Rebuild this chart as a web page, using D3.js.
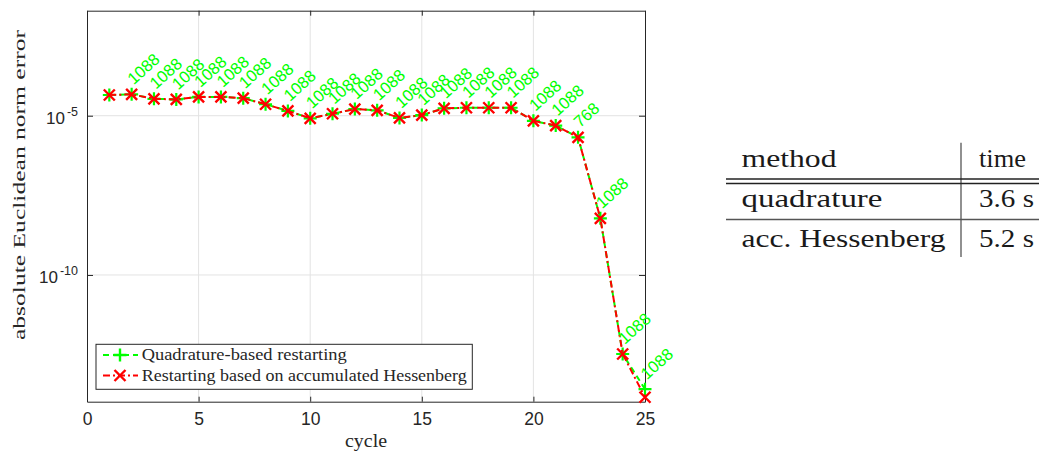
<!DOCTYPE html>
<html><head><meta charset="utf-8">
<script src="https://cdn.jsdelivr.net/npm/d3@7"></script>
<style>
html,body{margin:0;padding:0;background:#fff;}
svg{display:block;}
</style></head>
<body>
<svg id="chart" width="1039" height="451"></svg>
<script>
// ---- data ----
const cycles = d3.range(1, 26);
const quadratureErr = [4.47e-5,4.68e-5,3.39e-5,3.24e-5,3.89e-5,3.89e-5,3.55e-5,2.29e-5,1.41e-5,8.3e-6,1.15e-5,1.62e-5,1.48e-5,8.5e-6,1.05e-5,1.70e-5,1.78e-5,1.78e-5,1.78e-5,6.9e-6,4.9e-6,2.09e-6,6.0e-9,3.3e-13,2.6e-14];
const hessenbergErr = [4.47e-5,4.68e-5,3.39e-5,3.24e-5,3.89e-5,3.89e-5,3.55e-5,2.29e-5,1.41e-5,8.3e-6,1.15e-5,1.62e-5,1.48e-5,8.5e-6,1.05e-5,1.70e-5,1.78e-5,1.78e-5,1.78e-5,6.9e-6,4.9e-6,2.09e-6,6.0e-9,3.3e-13,1.45e-14];
const nodeLabels = [null,"1088","1088","1088","1088","1088","1088","1088","1088","1088","1088","1088","1088","1088","1088","1088","1088","1088","1088","1088","1088","768","1088","1088","1088"];
const xTicks = [0,5,10,15,20,25];
const yTicks = [1e-10, 1e-5];
const yTickExp = ["-10", "-5"];
const seriesNames = ["Quadrature-based restarting", "Restarting based on accumulated Hessenberg"];
const tableHeader = ["method", "time"];
const tableMethods = ["quadrature", "acc. Hessenberg"];
const tableTimes = ["3.6 s", "5.2 s"];

// ---- layout ----
const svg = d3.select("#chart");
const L = 87, R = 645, T = 10.7, B = 401.7;
const x = d3.scaleLinear().domain([0,25]).range([L,R]);
const y = d3.scaleLog().domain([1.05e-14, 1.98e-2]).range([B,T]);
const axisCol = "#262626", gridCol = "#e3e3e3";
const sans = "'Liberation Sans', Arial, Helvetica, sans-serif";
const serif = "'Liberation Serif', 'Times New Roman', serif";

// grid
const g = svg.append("g");
g.selectAll("line.vg").data(xTicks.filter(d=>d>0&&d<25)).enter().append("line")
  .attr("x1",d=>x(d)).attr("x2",d=>x(d)).attr("y1",T).attr("y2",B)
  .attr("stroke",gridCol).attr("stroke-width",1);
g.selectAll("line.hg").data(yTicks).enter().append("line")
  .attr("x1",L).attr("x2",R).attr("y1",d=>y(d)).attr("y2",d=>y(d))
  .attr("stroke",gridCol).attr("stroke-width",1);

// axes (bottom, left) via d3 axis, inward ticks
const xAxis = d3.axisBottom(x).tickValues(xTicks).tickSizeInner(-5).tickSizeOuter(0).tickPadding(11).tickFormat(d3.format("d"));
const gx = svg.append("g").attr("transform",`translate(0,${B})`).call(xAxis);
gx.select(".domain").attr("stroke",axisCol);
gx.selectAll(".tick line").attr("stroke",axisCol);
gx.selectAll(".tick text").attr("fill",axisCol).attr("font-family",sans).attr("font-size",17.5);

const yAxis = d3.axisLeft(y).tickValues(yTicks).tickSizeInner(-6).tickSizeOuter(0).tickFormat("");
const gy = svg.append("g").attr("transform",`translate(${L},0)`).call(yAxis);
gy.select(".domain").attr("stroke",axisCol);
gy.selectAll(".tick line").attr("stroke",axisCol);
gy.selectAll(".tick").each(function(d,i){
  const t = d3.select(this).append("text").attr("fill",axisCol).attr("font-family",sans)
    .attr("text-anchor","end").attr("x",-9).attr("y",8);
  t.append("tspan").attr("font-size",17).text("10");
  t.append("tspan").attr("font-size",12.5).attr("dy",-8).attr("dx",2).text(yTickExp[i]);
});

// top & right mirrored axes
const xTop = d3.axisTop(x).tickValues(xTicks).tickSizeInner(-5).tickSizeOuter(0).tickFormat("");
const gxt = svg.append("g").attr("transform",`translate(0,${T})`).call(xTop);
gxt.select(".domain").attr("stroke",axisCol); gxt.selectAll(".tick line").attr("stroke",axisCol);
const yRight = d3.axisRight(y).tickValues(yTicks).tickSizeInner(-6).tickSizeOuter(0).tickFormat("");
const gyr = svg.append("g").attr("transform",`translate(${R},0)`).call(yRight);
gyr.select(".domain").attr("stroke",axisCol); gyr.selectAll(".tick line").attr("stroke",axisCol);

// axis labels
svg.append("text").attr("x",366).attr("y",447).attr("text-anchor","middle")
  .attr("font-family",serif).attr("font-size",19).attr("fill",axisCol)
  .attr("textLength",42).attr("lengthAdjust","spacingAndGlyphs").text("cycle");
svg.append("text").attr("transform","translate(25,185) rotate(-90)").attr("text-anchor","middle")
  .attr("font-family",serif).attr("font-size",17.5).attr("fill",axisCol)
  .attr("textLength",310).attr("lengthAdjust","spacingAndGlyphs").text("absolute Euclidean norm error");

// series
const green = "#00ff00", red = "#ff0000";
const line = d3.line().x((d,i)=>x(cycles[i])).y(d=>y(d));
const plot = svg.append("g");
function plusPath(cx,cy,s){return `M${cx-s},${cy}L${cx+s},${cy}M${cx},${cy-s}L${cx},${cy+s}`;}
function crossPath(cx,cy,s){return `M${cx-s},${cy-s}L${cx+s},${cy+s}M${cx-s},${cy+s}L${cx+s},${cy-s}`;}

plot.append("path").datum(quadratureErr).attr("d",line).attr("fill","none")
  .attr("stroke",green).attr("stroke-width",2).attr("stroke-dasharray","6,4");
plot.selectAll("path.gm").data(quadratureErr).enter().append("path")
  .attr("d",(d,i)=>plusPath(x(cycles[i]),y(d),6.5)).attr("stroke",green).attr("stroke-width",2.2).attr("fill","none");
plot.append("path").datum(hessenbergErr).attr("d",line).attr("fill","none")
  .attr("stroke",red).attr("stroke-width",2).attr("stroke-dasharray","7,3,2,3");
plot.selectAll("path.rm").data(hessenbergErr).enter().append("path")
  .attr("d",(d,i)=>crossPath(x(cycles[i]),y(d),5.5)).attr("stroke",red).attr("stroke-width",2.4).attr("fill","none");

// node labels
plot.selectAll("text.nl").data(nodeLabels.map((l,i)=>({l,i})).filter(d=>d.l)).enter().append("text")
  .attr("transform",d=>`translate(${x(cycles[d.i])+2},${y(quadratureErr[d.i])-9}) rotate(-42)`)
  .attr("font-family",sans).attr("font-size",16.5).attr("fill",green).text(d=>d.l);

// legend
const lg = svg.append("g");
lg.append("rect").attr("x",96).attr("y",344.3).attr("width",376.3).attr("height",45)
  .attr("fill","#fff").attr("stroke",axisCol).attr("stroke-width",1);
const legRows = [{c:green,dash:"6,4",m:"plus",y:355},{c:red,dash:"7,3,2,3",m:"cross",y:375.5}];
legRows.forEach((r,i)=>{
  lg.append("line").attr("x1",103).attr("x2",138).attr("y1",r.y).attr("y2",r.y)
    .attr("stroke",r.c).attr("stroke-width",2).attr("stroke-dasharray",r.dash);
  lg.append("path").attr("d", r.m==="plus"?plusPath(120,r.y,6.5):crossPath(120,r.y,5.5))
    .attr("stroke",r.c).attr("stroke-width",2.4).attr("fill","none");
  lg.append("text").attr("x",141.7).attr("y",r.y+5).attr("font-family",serif).attr("font-size",16)
    .attr("fill",axisCol).attr("textLength", i===0?205:325).attr("lengthAdjust","spacingAndGlyphs")
    .text(seriesNames[i]);
});

// table
const tb = svg.append("g");
const tcol = "#1a1a1a";
tb.append("line").attr("x1",961).attr("x2",961).attr("y1",142.7).attr("y2",257).attr("stroke","#555").attr("stroke-width",1.3);
tb.append("line").attr("x1",726).attr("x2",1039).attr("y1",179).attr("y2",179).attr("stroke","#222").attr("stroke-width",1.3);
tb.append("line").attr("x1",726).attr("x2",1039).attr("y1",183.5).attr("y2",183.5).attr("stroke","#222").attr("stroke-width",1.3);
tb.append("line").attr("x1",726).attr("x2",1039).attr("y1",219.5).attr("y2",219.5).attr("stroke","#555").attr("stroke-width",1.3);
const rowsY = [166.5, 207, 247];
const leftTexts = [tableHeader[0], ...tableMethods];
const leftW = [95, 141, 204];
const rightTexts = [tableHeader[1], ...tableTimes];
const rightW = [47, 55, 55];
leftTexts.forEach((t,i)=>{
  tb.append("text").attr("x",741.5).attr("y",rowsY[i]).attr("font-family",serif).attr("font-size",26)
    .attr("fill",tcol).attr("textLength",leftW[i]).attr("lengthAdjust","spacingAndGlyphs").text(t);
});
rightTexts.forEach((t,i)=>{
  tb.append("text").attr("x",979).attr("y",rowsY[i]).attr("font-family",serif).attr("font-size",26)
    .attr("fill",tcol).attr("textLength",rightW[i]).attr("lengthAdjust","spacingAndGlyphs").text(t);
});
</script>
</body></html>
